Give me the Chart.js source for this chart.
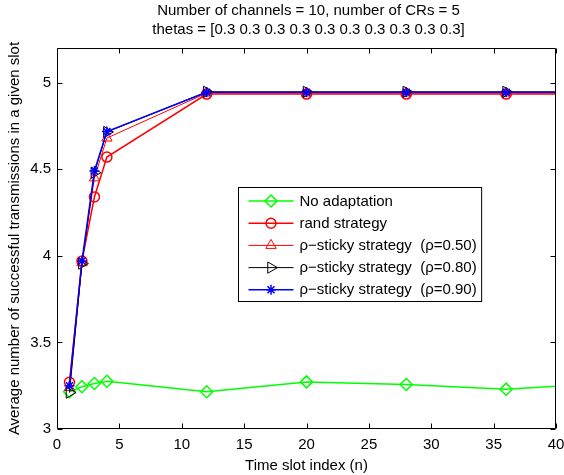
<!DOCTYPE html>
<html>
<head>
<meta charset="utf-8">
<script src="https://cdn.jsdelivr.net/npm/chart.js@4/dist/chart.umd.min.js"></script>
<style>
  html, body { margin: 0; padding: 0; background: #fff; }
  #wrap { width: 564px; height: 475px; }
</style>
</head>
<body>
<div id="wrap"><canvas id="chart"></canvas></div>
<script>
const titleLines = ['Number of channels = 10, number of CRs = 5', 'thetas = [0.3 0.3 0.3 0.3 0.3 0.3 0.3 0.3 0.3 0.3]'];
const xTitle = 'Time slot index (n)';
const yTitle = 'Average number of successful transmissions in a given slot';

const seriesNames = [
    'No adaptation',
    'rand strategy',
    'ρ−sticky strategy  (ρ=0.50)',
    'ρ−sticky strategy  (ρ=0.80)',
    'ρ−sticky strategy  (ρ=0.90)'
];

// time slots (last one lies past the axis limit, line runs off the edge)
const timeSlots = [1, 2, 3, 4, 12, 20, 28, 36, 44];

const noAdaptation = [3.215, 3.244, 3.263, 3.276, 3.215, 3.272, 3.257, 3.230, 3.265];
const randStrategy = [3.27, 3.97, 4.34, 4.57, 4.934, 4.934, 4.934, 4.934, 4.934];
const sticky050 = [3.24, 3.96, 4.45, 4.68, 4.940, 4.940, 4.940, 4.940, 4.940];
const sticky080 = [3.21, 3.955, 4.48, 4.715, 4.947, 4.947, 4.947, 4.947, 4.947];
const sticky090 = [3.25, 3.97, 4.49, 4.718, 4.944, 4.944, 4.944, 4.944, 4.944];

const xTicks = [0, 5, 10, 15, 20, 25, 30, 35, 40];
const yTicks = [3, 3.5, 4, 4.5, 5];

const FONT = '"Liberation Sans", Arial, Helvetica, sans-serif';
Chart.defaults.font.family = FONT;
Chart.defaults.font.size = 15;
Chart.defaults.color = '#000';

function toPoints(values) {
    return timeSlots.map((t, i) => ({x: t, y: values[i]}));
}

function makeSeries(label, values, color, style, radius, width, order, rotation) {
    return {
        label: label,
        data: toPoints(values),
        borderColor: color,
        backgroundColor: 'rgba(0,0,0,0)',
        borderWidth: width,
        pointStyle: style,
        pointRadius: radius,
        pointRotation: rotation || 0,
        pointBorderColor: color,
        pointBackgroundColor: 'rgba(0,0,0,0)',
        pointBorderWidth: width,
        pointHoverRadius: radius,
        showLine: true,
        tension: 0,
        order: order
    };
}

const datasets = [
    makeSeries(seriesNames[0], noAdaptation, '#00ff00', 'rectRot', 6, 1.5, 5),
    makeSeries(seriesNames[1], randStrategy, '#ff0000', 'circle', 5, 1.5, 4),
    makeSeries(seriesNames[2], sticky050, '#ff0000', 'triangle', 6, 1, 3),
    makeSeries(seriesNames[3], sticky080, '#000000', 'triangle', 6.5, 1, 2, 90),
    makeSeries(seriesNames[4], sticky090, '#0000ff', 'star', 5, 1.5, 1)
];

// MATLAB style box, inward ticks, title and legend
const matlabLook = {
    id: 'matlabLook',
    afterDatasetsDraw(chart) {
        const ctx = chart.ctx;
        const a = chart.chartArea;
        const xs = chart.scales.x, ys = chart.scales.y;
        const L = Math.round(a.left) + 0.5, R = Math.round(a.right) - 0.5;
        const T = Math.round(a.top) + 0.5, B = Math.round(a.bottom) - 0.5;
        const tl = 5;
        ctx.save();
        ctx.strokeStyle = '#000';
        ctx.lineWidth = 1;
        ctx.beginPath();
        ctx.rect(L, T, R - L, B - T);
        xTicks.forEach(v => {
            const px = Math.round(xs.getPixelForValue(v)) + 0.5;
            ctx.moveTo(px, B); ctx.lineTo(px, B - tl);
            ctx.moveTo(px, T); ctx.lineTo(px, T + tl);
        });
        yTicks.forEach(v => {
            const py = Math.round(ys.getPixelForValue(v)) + 0.5;
            ctx.moveTo(L, py); ctx.lineTo(L + tl, py);
            ctx.moveTo(R, py); ctx.lineTo(R - tl, py);
        });
        ctx.stroke();
        ctx.restore();
    },
    afterDraw(chart) {
        const ctx = chart.ctx;
        const a = chart.chartArea;
        ctx.save();
        // title
        ctx.fillStyle = '#000';
        ctx.font = '15px ' + FONT;
        ctx.textAlign = 'center';
        ctx.textBaseline = 'middle';
        const cx = (a.left + a.right) / 2 + 2;
        ctx.fillText(titleLines[0], cx, 11);
        ctx.fillText(titleLines[1], cx, 30);

        // legend
        const boxL = 238.5, boxT = 187.5, rowH = 22.2;
        ctx.textAlign = 'left';
        let textW = 0;
        chart.data.datasets.forEach(d => { textW = Math.max(textW, ctx.measureText(d.label).width); });
        const boxW = 10 + 45 + 6 + textW + 5;
        const boxH = 114;
        ctx.fillStyle = '#fff';
        ctx.strokeStyle = '#000';
        ctx.lineWidth = 1;
        ctx.fillRect(boxL, boxT, boxW, boxH);
        ctx.strokeRect(boxL, boxT, boxW, boxH);
        chart.data.datasets.forEach((d, i) => {
            const yy = boxT + 13.5 + i * rowH;
            const x0 = boxL + 10, x1 = x0 + 45;
            ctx.strokeStyle = d.borderColor;
            ctx.lineWidth = d.borderWidth;
            ctx.beginPath();
            ctx.moveTo(x0, yy);
            ctx.lineTo(x1, yy);
            ctx.stroke();
            ctx.fillStyle = 'rgba(0,0,0,0)';
            Chart.helpers.drawPoint(ctx, {
                pointStyle: d.pointStyle,
                rotation: d.pointRotation,
                radius: d.pointRadius,
                borderWidth: d.borderWidth
            }, (x0 + x1) / 2, yy);
            ctx.fillStyle = '#000';
            ctx.fillText(d.label, x1 + 6, yy + 0.5);
        });
        ctx.restore();
    }
};

const ctx = document.getElementById('chart').getContext('2d');
const chart = new Chart(ctx, {
    type: 'scatter',
    data: {datasets: datasets},
    options: {
        responsive: true,
        maintainAspectRatio: false,
        animation: false,
        layout: {padding: {top: 48, right: 8, left: 0, bottom: 0}},
        plugins: {
            legend: {display: false},
            title: {display: false},
            tooltip: {enabled: false}
        },
        scales: {
            x: {
                type: 'linear',
                min: 0,
                max: 40,
                afterBuildTicks: s => { s.ticks = xTicks.map(v => ({value: v})); },
                afterFit: s => { s.height = 46; s.paddingLeft = 0; s.paddingRight = 0; },
                grid: {display: false, drawTicks: false},
                border: {display: false},
                ticks: {padding: 7, font: {size: 15}, maxRotation: 0, callback: v => String(v)},
                title: {display: true, text: xTitle, font: {size: 15}, padding: {top: 0, bottom: 0}}
            },
            y: {
                type: 'linear',
                min: 3,
                max: 5.2,
                afterBuildTicks: s => { s.ticks = yTicks.map(v => ({value: v})); },
                afterFit: s => { s.width = 57; s.paddingTop = 0; s.paddingBottom = 0; },
                grid: {display: false, drawTicks: false},
                border: {display: false},
                ticks: {padding: 6, font: {size: 15}, callback: v => String(v)},
                title: {display: true, text: yTitle, font: {size: 15}, padding: {top: 6, bottom: 0}}
            }
        }
    },
    plugins: [matlabLook]
});
</script>
</body>
</html>
